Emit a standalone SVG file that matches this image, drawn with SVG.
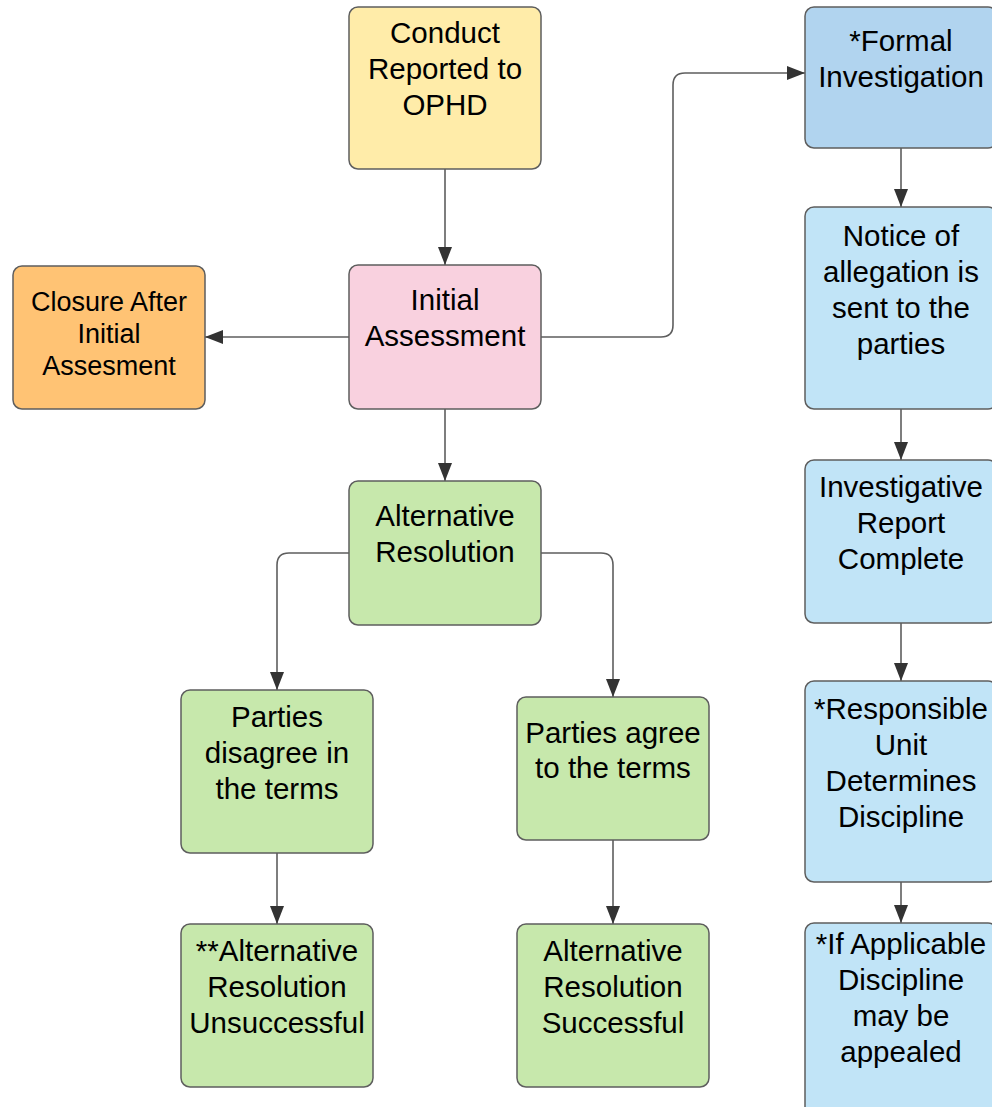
<svg xmlns="http://www.w3.org/2000/svg" width="992" height="1107" viewBox="0 0 992 1107">
<defs>
<style>
.n rect{stroke:#5e5e5e;stroke-width:1.5}
.n text{font-family:"Liberation Sans",Arial,sans-serif;font-size:29.5px;fill:#000;text-anchor:middle}
.sm text{font-size:27px}
.c path{fill:none;stroke:#5e5e5e;stroke-width:1.6}
</style>
<marker id="a" viewBox="0 0 18 14" refX="18" refY="7" markerWidth="18" markerHeight="14" markerUnits="userSpaceOnUse" orient="auto"><path d="M0,0 L18,7 L0,14 Z" fill="#333"/></marker>
</defs>
<rect width="992" height="1107" fill="#fff"/>
<g id="connectors" class="c">
<path d="M445,169 V265" marker-end="url(#a)"/>
<path d="M349,337 H205" marker-end="url(#a)"/>
<path d="M541,337 H661 Q673,337 673,325 V85 Q673,73 685,73 H805" marker-end="url(#a)"/>
<path d="M445,409 V481" marker-end="url(#a)"/>
<path d="M349,553 H289 Q277,553 277,565 V690" marker-end="url(#a)"/>
<path d="M541,553 H601 Q613,553 613,565 V697" marker-end="url(#a)"/>
<path d="M277,853 V924" marker-end="url(#a)"/>
<path d="M613,840 V924" marker-end="url(#a)"/>
<path d="M901,148 V207" marker-end="url(#a)"/>
<path d="M901,409 V460" marker-end="url(#a)"/>
<path d="M901,623 V681" marker-end="url(#a)"/>
<path d="M901,882 V923" marker-end="url(#a)"/>
</g>
<g id="conduct" class="n"><rect x="349" y="7" width="192" height="162" rx="9" fill="#ffeca9"/>
<text x="445" y="43">Conduct</text><text x="445" y="79">Reported to</text><text x="445" y="115">OPHD</text></g>
<g id="initial" class="n"><rect x="349" y="265" width="192" height="144" rx="9" fill="#f9d1df"/>
<text x="445" y="310">Initial</text><text x="445" y="346">Assessment</text></g>
<g id="closure" class="n sm"><rect x="13" y="266" width="192" height="143" rx="9" fill="#ffc374"/>
<text x="109" y="311">Closure After</text><text x="109" y="343">Initial</text><text x="109" y="375">Assesment</text></g>
<g id="altres" class="n"><rect x="349" y="481" width="192" height="144" rx="9" fill="#c7e8ac"/>
<text x="445" y="526">Alternative</text><text x="445" y="562">Resolution</text></g>
<g id="disagree" class="n"><rect x="181" y="690" width="192" height="163" rx="9" fill="#c7e8ac"/>
<text x="277" y="727">Parties</text><text x="277" y="763">disagree in</text><text x="277" y="799">the terms</text></g>
<g id="agree" class="n"><rect x="517" y="697" width="192" height="143" rx="9" fill="#c7e8ac"/>
<text x="613" y="743">Parties agree</text><text x="613" y="778">to the terms</text></g>
<g id="unsuccessful" class="n"><rect x="181" y="924" width="192" height="163" rx="9" fill="#c7e8ac"/>
<text x="277" y="961">**Alternative</text><text x="277" y="997">Resolution</text><text x="277" y="1033">Unsuccessful</text></g>
<g id="successful" class="n"><rect x="517" y="924" width="192" height="163" rx="9" fill="#c7e8ac"/>
<text x="613" y="961">Alternative</text><text x="613" y="997">Resolution</text><text x="613" y="1033">Successful</text></g>
<g id="formal" class="n"><rect x="805" y="7" width="192" height="141" rx="9" fill="#b1d4ef"/>
<text x="901" y="51">*Formal</text><text x="901" y="87">Investigation</text></g>
<g id="notice" class="n"><rect x="805" y="207" width="192" height="202" rx="9" fill="#c1e4f7"/>
<text x="901" y="246">Notice of</text><text x="901" y="282">allegation is</text><text x="901" y="318">sent to the</text><text x="901" y="354">parties</text></g>
<g id="report" class="n"><rect x="805" y="460" width="192" height="163" rx="9" fill="#c1e4f7"/>
<text x="901" y="497">Investigative</text><text x="901" y="533">Report</text><text x="901" y="569">Complete</text></g>
<g id="responsible" class="n"><rect x="805" y="681" width="192" height="201" rx="9" fill="#c1e4f7"/>
<text x="901" y="719">*Responsible</text><text x="901" y="755">Unit</text><text x="901" y="791">Determines</text><text x="901" y="827">Discipline</text></g>
<g id="appeal" class="n"><rect x="805" y="923" width="192" height="200" rx="9" fill="#c1e4f7"/>
<text x="901" y="954">*If Applicable</text><text x="901" y="990">Discipline</text><text x="901" y="1026">may be</text><text x="901" y="1062">appealed</text></g>
</svg>
